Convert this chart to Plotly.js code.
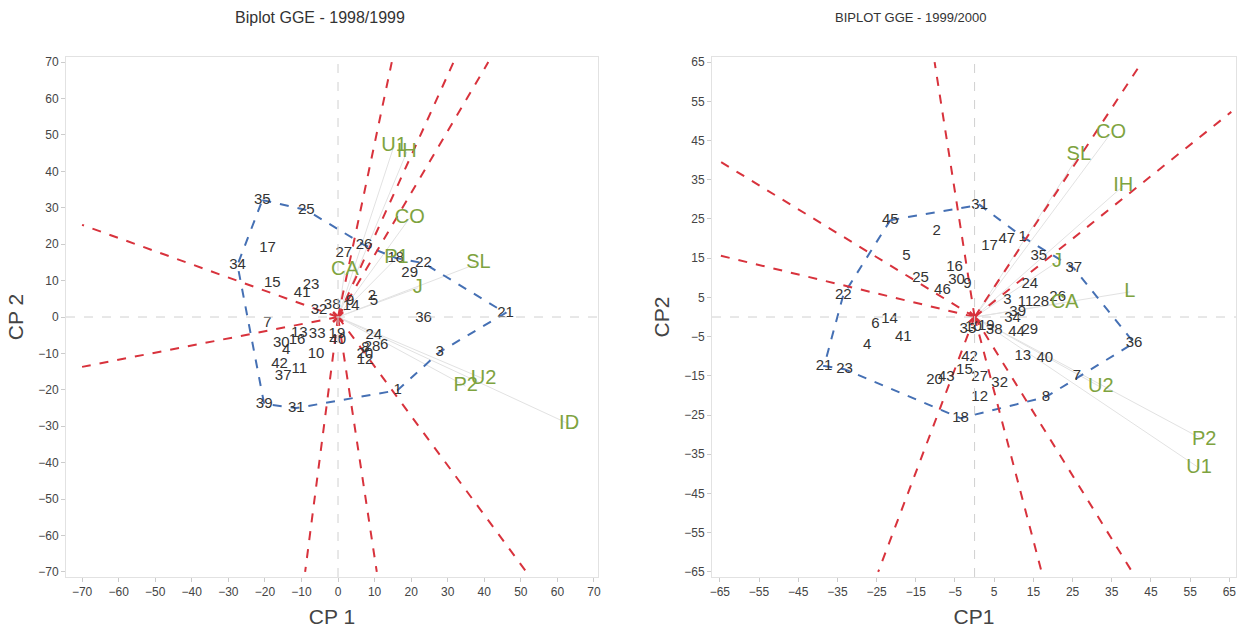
<!DOCTYPE html>
<html><head><meta charset="utf-8">
<script src="https://cdn.plot.ly/plotly-3.0.1.min.js"></script>
<style>html,body{margin:0;padding:0;background:#fff}#c{width:1240px;height:633px}</style>
</head><body><div id="c"></div>
<script>
// ---- 1998/1999 ----
const genL = ['35','25','17','34','15','23','41','27','26','18','22','29','32','38','9','14','2','5','36','21','7','13','33','16','30','4','19','40','10','42','37','11','24','28','6','8','20','12','3','1','39','31'];
const gxL = [-20.7,-8.7,-19.3,-27.5,-18.0,-7.4,-9.8,1.6,7.1,15.8,23.4,19.6,-5.2,-1.6,3.3,3.6,9.3,9.8,23.4,45.8,-19.3,-10.6,-5.7,-11.2,-15.5,-14.2,-0.3,-0.1,-6.0,-16.0,-15.0,-10.6,9.8,9.3,12.6,7.5,7.3,7.4,27.8,16.3,-20.2,-11.4];
const gyL = [32.1,29.4,19.0,14.3,9.3,8.8,6.6,17.6,19.8,16.2,14.8,12.1,1.9,3.3,4.2,2.9,5.8,4.4,-0.3,1.1,-1.6,-4.4,-4.7,-6.3,-7.1,-9.1,-4.6,-6.4,-10.2,-12.9,-16.2,-14.3,-4.9,-8.2,-7.7,-8.6,-10.2,-11.8,-9.6,-20.1,-23.9,-25.0];
const hullL = ['35','25','26','18','22','21','3','1','31','39','34','35'];
const envL = ['U1','IH','CO','P1','SL','J','CA','P2','U2','ID'];
const exL = [15.3,18.8,19.6,16.0,38.4,21.8,1.9,34.9,39.8,63.2];
const eyL = [47.0,45.3,27.2,16.2,14.8,8.0,12.9,-19.0,-17.0,-29.4];
const rayXL = [-70,-70,14.7,31.6,41.1,-9.0,10.6,51.5];
const rayYL = [25.3,-13.7,70,70,70,-70,-70,-70];

// ---- 1999/2000 ----
const genR = ['31','45','2','47','17','1','5','16','25','30','9','46','35','37','22','24','3','11','28','26','39','34','44','29','6','14','41','4','33','10','19','38','21','23','42','13','40','15','20','43','27','32','12','18','8','7','36'];
const gxR = [1.3,-21.5,-9.7,8.2,3.8,12.3,-17.4,-5.1,-13.8,-4.6,-1.8,-8.2,16.4,25.3,-33.5,14.1,8.4,13.0,16.9,21.2,11.0,9.7,10.7,14.1,-25.3,-21.7,-18.2,-27.4,-1.7,-0.3,3.0,5.0,-38.4,-33.2,-1.3,12.3,17.9,-2.6,-10.2,-7.2,1.3,6.4,1.3,-3.6,18.2,26.1,40.7];
const gyR = [28.6,24.7,21.9,19.9,18.1,20.4,15.6,12.8,9.9,9.4,8.4,6.9,15.6,12.5,5.6,8.4,4.3,3.8,3.8,5.1,1.3,-0.3,-3.8,-3.3,-1.8,-0.5,-5.1,-7.1,-3.0,-2.6,-2.4,-3.4,-12.5,-13.3,-10.2,-9.9,-10.5,-13.5,-16.1,-15.4,-15.3,-16.8,-20.4,-25.8,-20.4,-15.1,-6.6];
const hullR = ['45','31','1','37','36','8','18','23','21','22','45'];
const envR = ['CO','SL','IH','J','L','CA','U2','P2','U1'];
const exR = [34.8,26.6,37.9,21.0,39.6,23.0,32.2,58.6,57.3];
const eyR = [46.9,41.3,33.4,14.0,6.4,3.6,-17.9,-31.4,-38.5];
const rayXR = [-10.2,42.7,65.5,-65.5,-65.5,-24.6,17.1,40.2];
const rayYR = [65,65,52.3,40,15.8,-65,-65,-65];

const RED='#d8323c', BLUE='#4570b4', GREEN='#7ea33f', TXT='#333333';
const FONT='Liberation Sans, Arial';

function fromOrigin(xs, ys){
  const X=[],Y=[];
  xs.forEach((v,i)=>{X.push(0,v,null);Y.push(0,ys[i],null);});
  return {X,Y};
}
function traces(gen,gx,gy,hull,env,ex,ey,rx,ry,xa,ya){
  const ev=fromOrigin(ex,ey), rv=fromOrigin(rx,ry);
  const hx=hull.map(g=>gx[gen.indexOf(g)]), hy=hull.map(g=>gy[gen.indexOf(g)]);
  return [
    {x:ev.X,y:ev.Y,mode:'lines',line:{color:'#e2e2e2',width:1},xaxis:xa,yaxis:ya,hoverinfo:'skip'},
    {x:hx,y:hy,mode:'lines',line:{color:BLUE,width:2,dash:'dash'},xaxis:xa,yaxis:ya},
    {x:rv.X,y:rv.Y,mode:'lines',line:{color:RED,width:2,dash:'dash'},xaxis:xa,yaxis:ya},
    {x:gx,y:gy,text:gen,mode:'text',textfont:{family:FONT,size:15,color:TXT},xaxis:xa,yaxis:ya,cliponaxis:false},
    {x:ex,y:ey,text:env,mode:'text',textfont:{family:FONT,size:20,color:GREEN},xaxis:xa,yaxis:ya,cliponaxis:false},
    {x:[0],y:[0],mode:'markers',marker:{symbol:'x-thin-open',size:10,color:RED,line:{color:RED,width:2.5}},xaxis:xa,yaxis:ya}
  ];
}
const data=[
  ...traces(genL,gxL,gyL,hullL,envL,exL,eyL,rayXL,rayYL,'x','y'),
  ...traces(genR,gxR,gyR,hullR,envR,exR,eyR,rayXR,rayYR,'x2','y2')
];
const W=1240,H=633;
const ax=(range,dtick,dom,anchor,title,standoff)=>({
  range:range,domain:dom,anchor:anchor,dtick:dtick,tick0:0,
  showgrid:false,zeroline:false,
  showline:true,linecolor:'#e2e2e2',mirror:true,ticks:'outside',ticklen:4,tickcolor:'#cccccc',
  tickfont:{family:FONT,size:12,color:'#444'},
  title:{text:title,font:{family:FONT,size:21,color:'#444'},standoff:standoff}
});
const xA=ax([-74.4,71.1],10,[66/W,598/W],'y','CP 1',10);
const yA=ax([-71.4,71.4],10,[1-577/H,1-57/H],'x','CP 2',8);
const x2A=ax([-67,66.7],10,[712/W,1236/W],'y2','CP1',10); x2A.tick0=-65;
const y2A=ax([-66.3,66.3],10,[1-577/H,1-57/H],'x2','CP2',8); y2A.tick0=-65;
const layout={
  width:W,height:H,margin:{l:0,r:0,t:0,b:0},showlegend:false,
  paper_bgcolor:'#fff',plot_bgcolor:'#fff',
  xaxis:xA,yaxis:yA,xaxis2:x2A,yaxis2:y2A,
  shapes:[
    {type:'line',xref:'x',yref:'paper',x0:0,x1:0,y0:1-577/H,y1:1-57/H,line:{color:'#d0d0d0',width:1,dash:'dash'}},
    {type:'line',xref:'paper',yref:'y',x0:66/W,x1:598/W,y0:0,y1:0,line:{color:'#d0d0d0',width:1,dash:'dash'}},
    {type:'line',xref:'x2',yref:'paper',x0:0,x1:0,y0:1-577/H,y1:1-57/H,line:{color:'#d0d0d0',width:1,dash:'dash'}},
    {type:'line',xref:'paper',yref:'y2',x0:712/W,x1:1236/W,y0:0,y1:0,line:{color:'#d0d0d0',width:1,dash:'dash'}}
  ],
  annotations:[
    {text:'Biplot GGE - 1998/1999',xref:'paper',yref:'paper',x:320/W,y:1-18/H,xanchor:'center',yanchor:'middle',showarrow:false,font:{family:FONT,size:16,color:'#333'}},
    {text:'BIPLOT GGE - 1999/2000',xref:'paper',yref:'paper',x:911/W,y:1-18/H,xanchor:'center',yanchor:'middle',showarrow:false,font:{family:FONT,size:13,color:'#333'}}
  ]
};
Plotly.newPlot('c',data,layout,{displayModeBar:false,staticPlot:true});
</script></body></html>
